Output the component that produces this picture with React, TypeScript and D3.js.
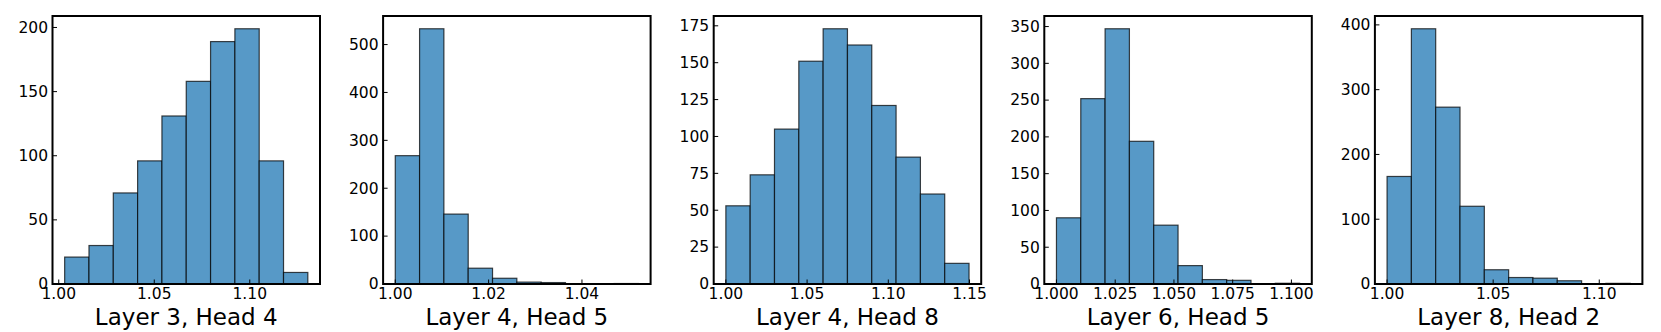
import * as d3 from 'd3'

const TITLES = ['Layer 3, Head 4', 'Layer 4, Head 5', 'Layer 4, Head 8', 'Layer 6, Head 5', 'Layer 8, Head 2']

// histogram range (first bin left edge, last bin right edge), 10 equal bins each
const BIN_START = [1.0031, 1.0, 1.0, 1.0, 1.0]
const BIN_END = [1.1304, 1.0521, 1.1497, 1.1035, 1.1146]

const COUNTS_L3H4 = [21, 30, 71, 96, 131, 158, 189, 199, 96, 9]
const COUNTS_L4H5 = [268, 533, 146, 33, 12, 4, 3, 0, 0, 1]
const COUNTS_L4H8 = [53, 74, 105, 151, 173, 162, 121, 86, 61, 14]
const COUNTS_L6H5 = [90, 252, 347, 194, 80, 25, 6, 5, 0, 1]
const COUNTS_L8H2 = [166, 394, 273, 120, 22, 10, 9, 5, 0, 1]
const COUNTS = [COUNTS_L3H4, COUNTS_L4H5, COUNTS_L4H8, COUNTS_L6H5, COUNTS_L8H2]

const X_TICKS = [
  [1.0, 1.05, 1.1],
  [1.0, 1.02, 1.04],
  [1.0, 1.05, 1.1, 1.15],
  [1.0, 1.025, 1.05, 1.075, 1.1],
  [1.0, 1.05, 1.1],
]
const X_DECIMALS = [2, 2, 2, 3, 2]
const Y_TICKS = [
  [0, 50, 100, 150, 200],
  [0, 100, 200, 300, 400, 500],
  [0, 25, 50, 75, 100, 125, 150, 175],
  [0, 50, 100, 150, 200, 250, 300, 350],
  [0, 100, 200, 300, 400],
]

const W = 1661
const H = 332
const AX_LEFT = 52.5
const AX_STEP = 330.6
const AX_TOP = 16
const AX_W = 267.5
const AX_H = 268
const FONT = '"DejaVu Sans", sans-serif'
const TICK_FS = 15.5

function Panel({ i }: { i: number }) {
  const counts = COUNTS[i]
  const lo = BIN_START[i]
  const hi = BIN_END[i]
  const n = counts.length
  const R = hi - lo
  const edges = d3.range(n + 1).map((k) => lo + (R * k) / n)

  const x = d3.scaleLinear().domain([lo - 0.05 * R, hi + 0.05 * R]).range([0, AX_W])
  const y = d3.scaleLinear().domain([0, (d3.max(counts) as number) * 1.05]).range([AX_H, 0])
  const fmt = d3.format(`.${X_DECIMALS[i]}f`)
  const tick = 4.5

  return (
    <g transform={`translate(${AX_LEFT + i * AX_STEP},${AX_TOP})`}>
      {counts.map((c, k) => (
        <rect
          key={k}
          x={x(edges[k])}
          y={y(c)}
          width={x(edges[k + 1]) - x(edges[k])}
          height={AX_H - y(c)}
          fill="#5799c7"
          stroke="rgba(0,0,0,0.72)"
          strokeWidth={1.2}
        />
      ))}

      {/* ticks point inward */}
      {X_TICKS[i].map((t) => (
        <g key={`x${t}`}>
          <line x1={x(t)} x2={x(t)} y1={AX_H} y2={AX_H - tick} stroke="#000" strokeWidth={1} />
          <text x={x(t)} y={AX_H + 15} textAnchor="middle" fontSize={TICK_FS} fontFamily={FONT} fill="#000">
            {fmt(t)}
          </text>
        </g>
      ))}
      {Y_TICKS[i].map((t) => (
        <g key={`y${t}`}>
          <line x1={0} x2={tick} y1={y(t)} y2={y(t)} stroke="#000" strokeWidth={1} />
          <text x={-4.5} y={y(t) + 5.3} textAnchor="end" fontSize={TICK_FS} fontFamily={FONT} fill="#000">
            {t}
          </text>
        </g>
      ))}

      <rect x={0} y={0} width={AX_W} height={AX_H} fill="none" stroke="#000" strokeWidth={2} />

      <text x={AX_W / 2} y={309} textAnchor="middle" fontSize={23} fontFamily={FONT} fill="#000">
        {TITLES[i]}
      </text>
    </g>
  )
}

export default function App() {
  return (
    <svg
      width={W}
      height={H}
      viewBox={`0 0 ${W} ${H}`}
      style={{ position: 'absolute', left: 0, top: 0, background: '#fff' }}
    >
      <rect width={W} height={H} fill="#fff" />
      {TITLES.map((_, i) => (
        <Panel key={i} i={i} />
      ))}
    </svg>
  )
}
